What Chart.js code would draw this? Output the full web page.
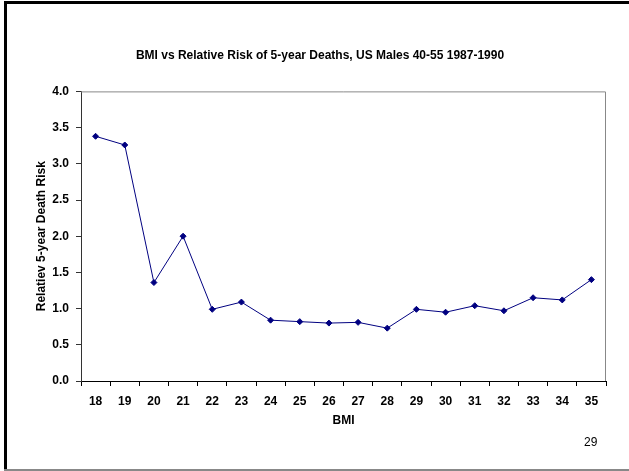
<!DOCTYPE html>
<html>
<head>
<meta charset="utf-8">
<script src="https://cdn.jsdelivr.net/npm/chart.js@4.4.0/dist/chart.umd.min.js"></script>
<style>
  html, body { margin: 0; padding: 0; background: #fff; }
  #wrap { position: relative; width: 629px; height: 471px; overflow: hidden; }
  #chartBox { position: absolute; left: 0; top: 0; width: 629px; height: 471px; }
  .frameTop { position: absolute; left: 4px; top: 1px; width: 625px; height: 3px; background: #000; }
  .frameLeft { position: absolute; left: 4px; top: 1px; width: 3px; height: 470px; background: #000; }
  .frameBottom { position: absolute; left: 4px; top: 469px; width: 625px; height: 2px; background: #888; }
  .pageNo { position: absolute; left: 584px; top: 435px; font: 12px "Liberation Sans", Arial, sans-serif; color: #000; }
</style>
</head>
<body>
<div id="wrap">
  <div id="chartBox"><canvas id="bmiChart"></canvas></div>
  <div class="frameTop"></div>
  <div class="frameLeft"></div>
  <div class="frameBottom"></div>
  <div class="pageNo">29</div>
</div>
<script>
// BMI categories and relative risk values
const bmiLabels = ['18', '19', '20', '21', '22', '23', '24', '25', '26', '27', '28', '29', '30', '31', '32', '33', '34', '35'];
const relativeRisk = [3.38, 3.26, 1.36, 2.00, 0.99, 1.09, 0.84, 0.82, 0.80, 0.81, 0.73, 0.99, 0.95, 1.04, 0.97, 1.15, 1.12, 1.40];
const yTickStep = 0.5;
const yMin = 0;
const yMax = 4;

const boldFont = { family: '"Liberation Sans", Arial, sans-serif', size: 12, weight: 'bold' };

// gray top/right edges of the plot area
const plotFrame = {
   id: 'plotFrame',
   beforeDatasetsDraw(chart) {
       const { ctx, chartArea } = chart;
       ctx.save();
       ctx.strokeStyle = '#888888';
       ctx.lineWidth = 1;
       ctx.beginPath();
       ctx.moveTo(chartArea.left, chartArea.top + 0.5);
       ctx.lineTo(chartArea.right - 0.5, chartArea.top + 0.5);
       ctx.lineTo(chartArea.right - 0.5, chartArea.bottom);
       ctx.stroke();
       ctx.restore();
   }
};

const ctx = document.getElementById('bmiChart').getContext('2d');
new Chart(ctx, {
   type: 'line',
   data: {
       labels: bmiLabels,
       datasets: [{
           label: 'Relative risk',
           data: relativeRisk,
           borderColor: '#000080',
           backgroundColor: '#000080',
           borderWidth: 1,
           pointStyle: 'rectRot',
           pointRadius: 3,
           pointHoverRadius: 3,
           tension: 0
       }]
   },
   options: {
       responsive: true,
       maintainAspectRatio: false,
       animation: false,
       layout: { padding: { left: 34, right: 23, top: 0, bottom: 0 } },
       plugins: {
           legend: { display: false },
           tooltip: { enabled: false },
           title: {
               display: true,
               text: 'BMI vs Relative Risk of 5-year Deaths, US Males 40-55 1987-1990',
               color: '#000',
               font: boldFont,
               padding: { top: 48, bottom: 29 }
           }
       },
       scales: {
           x: {
               offset: true,
               grid: {
                   offset: true,
                   drawOnChartArea: false,
                   drawTicks: true,
                   tickLength: 5,
                   color: '#000'
               },
               border: { color: '#000', width: 1 },
               ticks: { color: '#000', font: boldFont, padding: 8, maxRotation: 0 },
               title: {
                   display: true,
                   text: 'BMI',
                   color: '#000',
                   font: boldFont,
                   padding: { top: 0, bottom: 43 }
               },
               afterFit(scale) { scale.height = 90; }
           },
           y: {
               min: yMin,
               max: yMax,
               grid: {
                   drawOnChartArea: false,
                   drawTicks: true,
                   tickLength: 5,
                   color: '#333'
               },
               border: { color: '#333', width: 1 },
               ticks: {
                   stepSize: yTickStep,
                   color: '#000',
                   font: boldFont,
                   padding: 7,
                   callback: (v) => Number(v).toFixed(1)
               },
               title: {
                   display: true,
                   text: 'Relatiev 5-year Death Risk',
                   color: '#000',
                   font: boldFont,
                   padding: { top: 0, bottom: 0 }
               },
               afterFit(scale) { scale.width = 47; }
           }
       }
   },
   plugins: [plotFrame]
});
</script>
</body>
</html>
